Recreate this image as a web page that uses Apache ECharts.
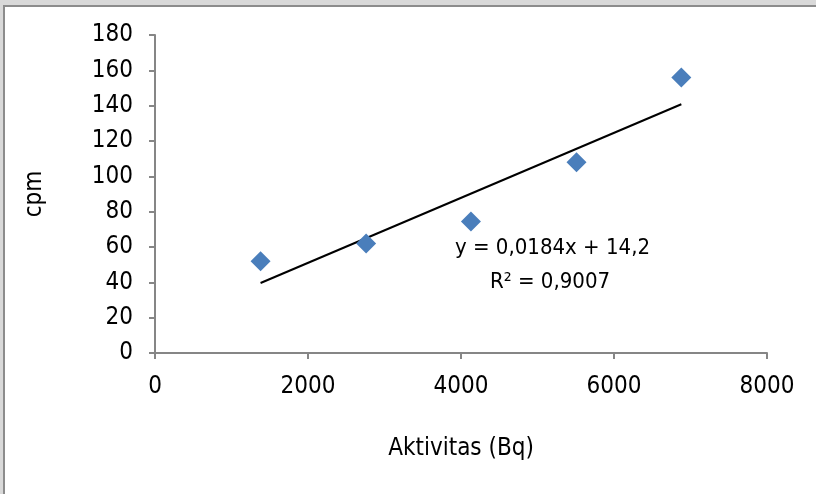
<!DOCTYPE html>
<html>
<head>
<meta charset="utf-8">
<script src="https://cdn.jsdelivr.net/npm/echarts@6/dist/echarts.min.js"></script>
<style>
  html, body { margin: 0; padding: 0; background: #fff; }
  #chart { width: 816px; height: 494px; }
</style>
</head>
<body>
<div id="chart"></div>
<script>
// measured points (Aktivitas Bq, cpm)
const aktivitas = [1380, 2760, 4130, 5510, 6880]
const cpm = [52, 62, 74.5, 108, 156]
// linear trendline end points
const trendX = [1380, 6880]
const trendY = [39.6, 140.8]
const eqLines = ['y = 0,0184x + 14,2', 'R² = 0,9007']

const font = '"Liberation Sans Narrow", "DejaVu Sans Condensed", sans-serif'
const axisGray = '#868686'

const chart = echarts.init(document.getElementById('chart'))
chart.setOption({
    animation: false,
    backgroundColor: '#fff',
    grid: { left: 155, right: 49, top: 35, bottom: 141 },
    xAxis: {
        type: 'value',
        min: 0, max: 8000, interval: 2000,
        name: 'Aktivitas (Bq)',
        nameLocation: 'middle',
        nameGap: 84,
        nameTextStyle: { color: '#000', fontSize: 24, fontFamily: font },
        splitLine: { show: false },
        axisLine: { lineStyle: { color: axisGray, width: 2 } },
        axisTick: { length: 6, lineStyle: { color: axisGray, width: 2 } },
        axisLabel: { color: '#000', fontSize: 24, fontFamily: font, margin: 22, formatter: v => String(v) }
    },
    yAxis: {
        type: 'value',
        min: 0, max: 180, interval: 20,
        name: 'cpm',
        nameLocation: 'middle',
        nameGap: 108,
        nameTextStyle: { color: '#000', fontSize: 24, fontFamily: font },
        splitLine: { show: false },
        axisLine: { show: true, lineStyle: { color: axisGray, width: 2 } },
        axisTick: { show: true, length: 6, lineStyle: { color: axisGray, width: 2 } },
        axisLabel: { color: '#000', fontSize: 24, fontFamily: font, margin: 22 }
    },
    series: [
        {
            type: 'line',
            data: trendX.map((x, i) => [x, trendY[i]]),
            symbol: 'none',
            lineStyle: { color: '#000', width: 2 },
            z: 2
        },
        {
            type: 'scatter',
            data: aktivitas.map((x, i) => [x, cpm[i]]),
            symbol: 'diamond',
            symbolSize: [20, 20],
            itemStyle: { color: '#4a7ebb', opacity: 1 },
            z: 3
        }
    ],
    graphic: [
        { type: 'rect', shape: { x: 0, y: 0, width: 816, height: 5 }, style: { fill: '#d9d9d9' }, silent: true },
        { type: 'rect', shape: { x: 0, y: 0, width: 3, height: 494 }, style: { fill: '#d9d9d9' }, silent: true },
        { type: 'rect', shape: { x: 3, y: 5, width: 813, height: 2 }, style: { fill: '#8c8c8c' }, silent: true },
        { type: 'rect', shape: { x: 3, y: 5, width: 2, height: 489 }, style: { fill: '#8c8c8c' }, silent: true },
        {
            type: 'text', left: 455, top: 237,
            style: { text: eqLines[0], fill: '#000', font: '22px ' + font }
        },
        {
            type: 'text', left: 490, top: 271,
            style: { text: eqLines[1], fill: '#000', font: '22px ' + font }
        }
    ]
})
</script>
</body>
</html>
